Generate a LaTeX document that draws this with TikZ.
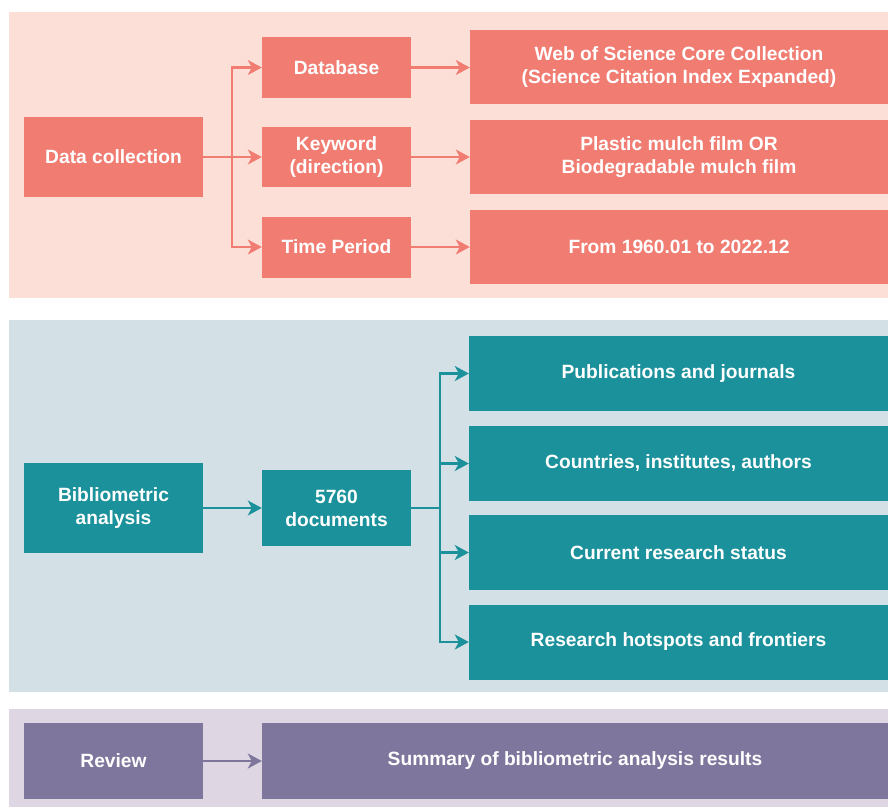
\documentclass[tikz,border=0pt]{standalone}
\usepackage{fontspec}
\setmainfont{Liberation Sans}
\usetikzlibrary{arrows.meta}

\definecolor{coralbg}{RGB}{252,224,216}
\definecolor{coral}{RGB}{240,124,114}
\definecolor{tealbg}{RGB}{211,224,229}
\definecolor{teal}{RGB}{27,145,155}
\definecolor{lilacbg}{RGB}{222,214,227}
\definecolor{lilac}{RGB}{126,118,156}

\begin{document}
\begin{tikzpicture}[x=1pt, y=1pt,
  every node/.style={font=\fontsize{19.2}{23}\selectfont\bfseries, text=white, align=center, inner sep=0pt},
  arr/.style={-{Stealth[length=14pt, width=15pt, inset=4pt]}, line width=2.2pt}]
\useasboundingbox (0,0) rectangle (888,-807);

% --- Top: data collection ---
\fill[coralbg] (9,-12) rectangle (888,-298);
\begin{scope}[every node/.append style={fill=coral}]
    \node[minimum width=179, minimum height=80] (dc) at (113.5,-157) {Data collection};
    \node[minimum width=149, minimum height=61] (db) at (336.5,-67.5) {Database};
    \node[minimum width=149, minimum height=60] (kw) at (336.5,-157) {Keyword\\(direction)};
    \node[minimum width=149, minimum height=61] (tp) at (336.5,-247) {Time Period};

    \node[minimum width=418, minimum height=74] (wos) at (679,-67) {Web of Science Core Collection\\(Science Citation Index Expanded)};
    \node[minimum width=418, minimum height=74] (pm) at (679,-157) {Plastic mulch film OR\\Biodegradable mulch film};
    \node[minimum width=418, minimum height=74] (yr) at (679,-247) {From 1960.01 to 2022.12};
\end{scope}

\coordinate (split1) at (232,-157);
\draw[coral, line width=2.2pt] (dc.east) -- (split1);
\draw[arr, coral] (split1) |- (db.west);
\draw[arr, coral] (split1) -- (kw.west);
\draw[arr, coral] (split1) |- (tp.west);
\draw[arr, coral] (db.east) -- (wos.west |- db.east);
\draw[arr, coral] (kw.east) -- (pm.west |- kw.east);
\draw[arr, coral] (tp.east) -- (yr.west |- tp.east);

% --- Middle: bibliometric analysis ---
\fill[tealbg] (9,-320) rectangle (888,-692);
\begin{scope}[every node/.append style={fill=teal}]
    \node[minimum width=179, minimum height=90] (ba) at (113.5,-508) {Bibliometric\\analysis};
    \node[minimum width=149, minimum height=76] (docs) at (336.5,-508) {5760\\documents};

    \node[minimum width=419, minimum height=75] (pub) at (678.5,-373.5) {Publications and journals};
    \node[minimum width=419, minimum height=75] (cty) at (678.5,-463.5) {Countries, institutes, authors};
    \node[minimum width=419, minimum height=75] (cur) at (678.5,-552.5) {Current research status};
    \node[minimum width=419, minimum height=75] (hot) at (678.5,-642) {Research hotspots and frontiers};
\end{scope}

\coordinate (split2) at (440,-508);
\draw[arr, teal] (ba.east) -- (docs.west);
\draw[teal, line width=2.2pt] (docs.east) -- (split2);
\draw[arr, teal] (split2) |- (pub.west);
\draw[arr, teal] (split2) |- (cty.west);
\draw[arr, teal] (split2) |- (cur.west);
\draw[arr, teal] (split2) |- (hot.west);

% --- Bottom: review ---
\fill[lilacbg] (9,-709) rectangle (888,-807);
\begin{scope}[every node/.append style={fill=lilac}]
    \node[minimum width=179, minimum height=76] (rev) at (113.5,-761) {Review};
    \node[minimum width=626, minimum height=76] (sum) at (575,-761) {Summary of bibliometric analysis results};
\end{scope}
\draw[arr, lilac] (rev.east) -- (sum.west);

\end{tikzpicture}
\end{document}
